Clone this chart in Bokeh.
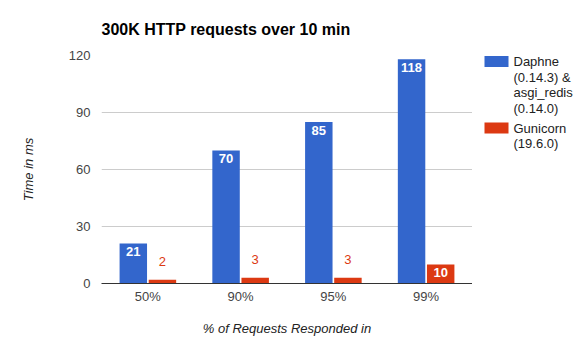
from bokeh.plotting import figure
from bokeh.layouts import row
from bokeh.models import Range1d, FixedTicker
from bokeh.core.properties import value
from bokeh.embed import file_html
from bokeh.resources import INLINE

categories = ["50%", "90%", "95%", "99%"]
daphne = [21, 70, 85, 118]
gunicorn = [2, 3, 3, 10]
series_labels = [["Daphne", "(0.14.3) &", "asgi_redis", "(0.14.0)"], ["Gunicorn", "(19.6.0)"]]
series_colors = ["#3366cc", "#dc3912"]
y_ticks = [0, 30, 60, 90, 120]

FONT = "Liberation Sans"
Y_MAX = 120
N = len(categories)
H = 351
MAIN_W, LEG_W = 472, 104
BORDER_TOP, BORDER_BOTTOM = 55, 68
FRAME_H = 228
px_y = Y_MAX / FRAME_H

p = figure(width=MAIN_W, height=H,
           x_range=Range1d(0, N), y_range=Range1d(0, Y_MAX),
           title="300K HTTP requests over 10 min",
           output_backend="svg", toolbar_location=None,
           min_border_left=101, min_border_right=0,
           min_border_top=BORDER_TOP, min_border_bottom=BORDER_BOTTOM)
p.outline_line_color = None
p.background_fill_color = "white"

p.title.align = "left"
p.title.vertical_align = "middle"
p.title.text_baseline = "middle"
p.title.standoff = 33
p.title.text_font = FONT
p.title.text_font_size = "16px"
p.title.text_font_style = "bold"
p.title.text_color = "#000000"

centers = [i + 0.5 for i in range(N)]
OFF = 0.157
W = 0.296
series = [daphne, gunicorn]
offsets = [-OFF, OFF]
for vals, col, off in zip(series, series_colors, offsets):
    xs = [c + off for c in centers]
    p.vbar(x=xs, top=vals, width=W, fill_color=col, line_color=None)
    inside = [i for i, v in enumerate(vals) if v / px_y > 16]
    outside = [i for i, v in enumerate(vals) if v / px_y <= 16]
    if inside:
        p.text(x=[xs[i] for i in inside], y=[vals[i] for i in inside],
               text=[str(vals[i]) for i in inside],
               text_align="center", text_baseline="middle", y_offset=8,
               text_color="white", text_font=value(FONT), text_font_style="bold",
               text_font_size="13px")
    if outside:
        p.text(x=[xs[i] for i in outside], y=[vals[i] for i in outside],
               text=[str(vals[i]) for i in outside],
               text_align="center", text_baseline="middle", y_offset=-18,
               text_color=col, text_font=value(FONT), text_font_size="13px")

# axes
p.yaxis.ticker = FixedTicker(ticks=y_ticks)
p.yaxis.axis_line_color = None
p.yaxis.major_tick_line_color = None
p.yaxis.minor_tick_line_color = None
p.yaxis.major_tick_out = 0
p.yaxis.major_tick_in = 0
p.yaxis.minor_tick_out = 0
p.yaxis.major_label_standoff = 11
p.yaxis.major_label_text_font = FONT
p.yaxis.major_label_text_font_size = "13px"
p.yaxis.major_label_text_color = "#444444"
p.yaxis.axis_label = "Time in ms"
p.yaxis.axis_label_text_font = FONT
p.yaxis.axis_label_text_font_size = "13px"
p.yaxis.axis_label_text_font_style = "italic"
p.yaxis.axis_label_text_color = "#222222"
p.yaxis.axis_label_standoff = 30

p.xaxis.ticker = FixedTicker(ticks=centers)
p.xaxis.major_label_overrides = {c: lab for c, lab in zip(centers, categories)}
p.xaxis.axis_line_color = "#333333"
p.xaxis.major_tick_line_color = None
p.xaxis.minor_tick_line_color = None
p.xaxis.major_tick_out = 0
p.xaxis.major_tick_in = 0
p.xaxis.minor_tick_out = 0
p.xaxis.major_label_standoff = 5
p.xaxis.major_label_text_font = FONT
p.xaxis.major_label_text_font_size = "13px"
p.xaxis.major_label_text_color = "#444444"
p.xaxis.axis_label = "% of Requests Responded in"
p.xaxis.axis_label_text_font = FONT
p.xaxis.axis_label_text_font_size = "13px"
p.xaxis.axis_label_text_font_style = "italic"
p.xaxis.axis_label_text_color = "#222222"
p.xaxis.axis_label_standoff = 14

p.xgrid.grid_line_color = None
p.ygrid.grid_line_color = "#cccccc"

# legend panel: its frame lines up with the main frame; coordinates are canvas pixels
frame_top = BORDER_TOP + 1
frame_bottom = H - BORDER_BOTTOM + 1
leg = figure(width=LEG_W, height=H, x_range=Range1d(0, LEG_W),
             y_range=Range1d(frame_bottom, frame_top),
             output_backend="svg", toolbar_location=None,
             x_axis_location=None, y_axis_location=None,
             min_border_left=0, min_border_right=0,
             min_border_top=BORDER_TOP, min_border_bottom=BORDER_BOTTOM)
leg.outline_line_color = None
leg.grid.visible = False

ROW_H = 15.5
GROUP_GAP = 4.5
y_cur = 62
for labels, col in zip(series_labels, series_colors):
    leg.rect(x=24, y=y_cur, width=24, height=11, fill_color=col, line_color=None)
    ys = [y_cur + ROW_H * k for k in range(len(labels))]
    leg.text(x=[41] * len(labels), y=ys, text=labels,
             text_align="left", text_baseline="middle", text_color="#222222",
             text_font=value(FONT), text_font_size="13px")
    y_cur += ROW_H * len(labels) + GROUP_GAP

open("out.html", "w").write(file_html(row(p, leg), INLINE))
